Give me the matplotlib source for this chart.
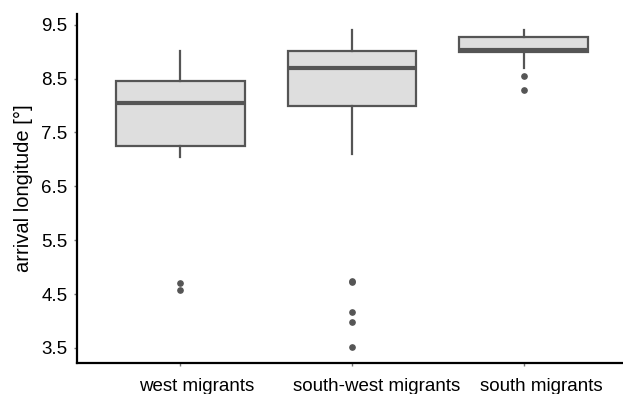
import matplotlib
matplotlib.use("Agg")
import matplotlib.pyplot as plt
import matplotlib.transforms as mtransforms

plt.rcParams['font.family'] = ['Liberation Sans', 'DejaVu Sans']

groups = ["west migrants", "south-west migrants", "south migrants"]
whis_low = [7.05, 7.10, 8.70]
q1 = [7.25, 8.00, 9.00]
medians = [8.05, 8.70, 9.04]
q3 = [8.45, 9.02, 9.28]
whis_high = [9.02, 9.41, 9.41]
outliers = [
    [4.70, 4.58],
    [4.75, 4.72, 4.17, 3.98, 3.51],
    [8.54, 8.29],
]

stats = []
for i, name in enumerate(groups):
    stats.append(dict(label=name, whislo=whis_low[i], q1=q1[i], med=medians[i],
                      q3=q3[i], whishi=whis_high[i], fliers=outliers[i]))

fig = plt.figure(figsize=(6.23, 3.94), dpi=100)
ax = fig.add_axes([77 / 623, 31 / 394, (623 - 77) / 623, 349 / 394])

edge = '#555555'
ax.bxp(stats, positions=[1, 2, 3], widths=0.75, patch_artist=True, showcaps=False,
       boxprops=dict(facecolor='#dedede', edgecolor=edge, linewidth=1.6),
       medianprops=dict(color=edge, linewidth=3),
       whiskerprops=dict(color=edge, linewidth=1.6),
       flierprops=dict(marker='o', markerfacecolor=edge, markeredgecolor=edge, markersize=3.8))

ax.set_xlim(0.4, 3.577)
ax.set_ylim(3.22, 9.70)
ax.set_yticks([3.5, 4.5, 5.5, 6.5, 7.5, 8.5, 9.5])
ax.set_yticklabels(['3.5', '4.5', '5.5', '6.5', '7.5', '8.5', '9.5'])
ax.set_xticks([1, 2, 3])
ax.set_xticklabels(groups)

for s in ['top', 'right']:
    ax.spines[s].set_visible(False)
for s in ['left', 'bottom']:
    ax.spines[s].set_linewidth(1.6)
    ax.spines[s].set_color('black')

ax.tick_params(axis='both', colors='#777777', length=2, width=1, labelsize=13.5, labelcolor='black')
ax.tick_params(axis='y', pad=5)
ax.tick_params(axis='x', pad=9)
ax.set_ylabel('arrival longitude [°]', fontsize=14.5, labelpad=6)

# x labels sit a bit right of their ticks in the original
fig.canvas.draw()
renderer = fig.canvas.get_renderer()
for lab in ax.get_xticklabels():
    w = lab.get_window_extent(renderer).width
    shift = mtransforms.ScaledTranslation(0.145 * w / fig.dpi, 0, fig.dpi_scale_trans)
    lab.set_transform(lab.get_transform() + shift)

fig.savefig('out.png', dpi=100)
